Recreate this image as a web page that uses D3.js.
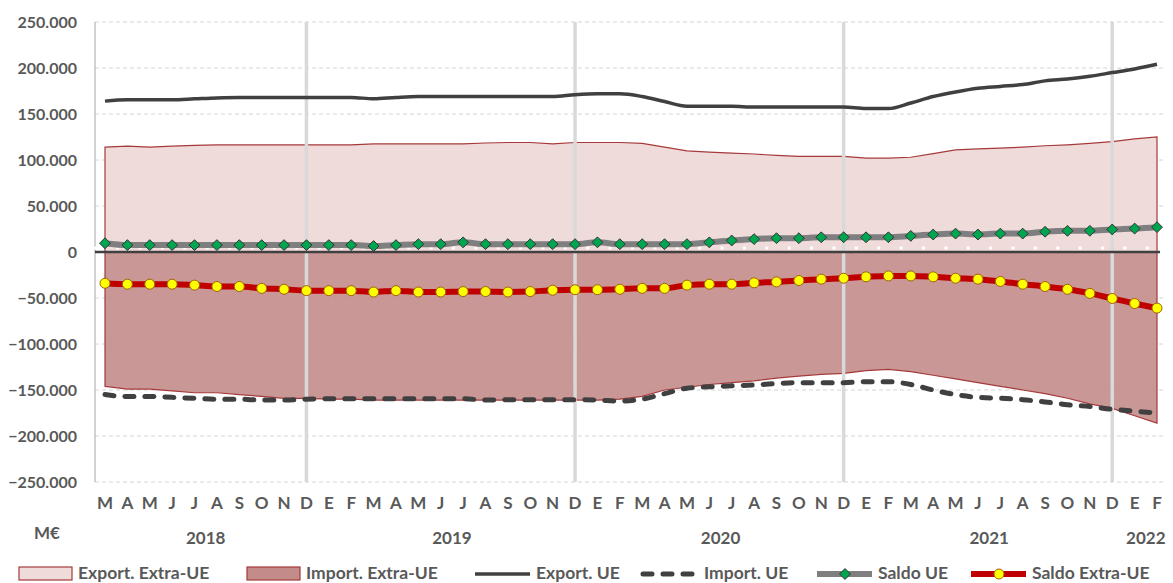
<!DOCTYPE html>
<html><head><meta charset="utf-8">
<script src="https://cdn.jsdelivr.net/npm/d3@7"></script>
<style>
html,body{margin:0;padding:0;background:#fff;}
svg text{font-family:Lato,"Open Sans",sans-serif;font-weight:700;fill:#595959;}
</style></head>
<body><svg id="c" width="1173" height="583"></svg>
<script>
// ---- data (M€) ----
const months = ["M","A","M","J","J","A","S","O","N","D",
  "E","F","M","A","M","J","J","A","S","O","N","D",
  "E","F","M","A","M","J","J","A","S","O","N","D",
  "E","F","M","A","M","J","J","A","S","O","N","D",
  "E","F"];
const years = [{label:"2018",from:0,to:9},{label:"2019",from:10,to:21},{label:"2020",from:22,to:33},{label:"2021",from:34,to:45},{label:"2022",from:46,to:47}];
const yearSeparators = [9,21,33,45];
const yTicks = [250000,200000,150000,100000,50000,0,-50000,-100000,-150000,-200000,-250000];

const exportExtraUE = [114,115,114,115,116,116.5,116.5,116.5,116.5,116.5,
  116.5,116.5,117.5,117.5,117.5,117.5,117.5,118.5,119,119,117.5,119,
  119,119,118,114,110,108.5,107.5,106.5,105,104,104,104,
  102,102,103,107,111,112,113,114,115.5,116.5,118,120,
  123,125].map(v=>v*1000);
const importExtraUE = [-146,-149,-149,-151,-153,-153,-155,-157,-159,-159,
  -160,-160,-161,-161,-161,-161,-161,-161,-161,-161,-161,-161,
  -161,-160,-157,-150,-147,-144,-142,-140,-137,-135,-133,-132,
  -129,-127.5,-130,-134,-138,-142,-146,-150,-154,-159,-165,-170,
  -178,-186].map(v=>v*1000);
const exportUE = [164,165.5,165.5,165.5,166.5,167.5,168,168,168,168,
  168,168,166.5,168,169,169,169,169,169,169,169,171,
  172,172,169,163.5,158.5,158.5,158.5,157.5,157.5,157.5,157.5,157.5,
  156,156,162,169,174,178,180,182,186,188,191,195,
  199,204].map(v=>v*1000);
const importUE = [-155,-157,-157,-158,-159,-160,-160,-161,-161,-160,
  -159.5,-159.5,-159.5,-159.5,-159.5,-159.5,-159.5,-161,-160.5,-160.5,-160.5,-160.5,
  -161,-162,-160,-154,-148,-146.5,-145.5,-144.5,-143,-142,-142,-142,
  -141,-141,-144,-150,-155,-158,-159,-160.5,-163,-166,-168,-171,
  -173,-175].map(v=>v*1000);
const saldoUE = [9.5,7.5,7.5,7.5,7.5,7.5,7.5,7.5,7.5,7.5,
  7.5,7.5,6.5,7.5,8.5,8.5,10.5,8.5,8.5,8.5,8.5,8.5,
  10.5,8.5,8.5,8.5,8.5,10.5,12.5,14,15,15,16,16,
  16,16,17.5,19,20,19,20,20,22,23,23,24.5,
  25.5,27].map(v=>v*1000);
const saldoExtraUE = [-34,-35,-35,-35,-36,-37.5,-37.5,-39.5,-40.5,-42,
  -42,-42,-43.5,-42,-43.5,-43.5,-43,-43,-43.5,-43,-41.5,-41,
  -41,-40.5,-39.5,-39.5,-36,-35,-35,-33.5,-32.5,-31,-29.5,-28.5,
  -27,-26,-26,-27,-28.5,-29.5,-32,-35,-37.5,-40.5,-45,-50.5,
  -56,-61].map(v=>v*1000);

const legendItems = [
  {label:"Export. Extra-UE", type:"area", key:"expExtra"},
  {label:"Import. Extra-UE", type:"area", key:"impExtra"},
  {label:"Export. UE", type:"line", key:"expUE"},
  {label:"Import. UE", type:"line", key:"impUE"},
  {label:"Saldo UE", type:"line", key:"saldoUE"},
  {label:"Saldo Extra-UE", type:"line", key:"saldoExtra"}
];

// ---- styles ----
const S = {
  expExtra:{fill:"#F0DBDB", stroke:"#A63A3A"},
  impExtra:{fill:"#C38C8A", stroke:"#A63A3A", opacity:0.9},
  expUE:{stroke:"#404040", width:3.5},
  impUE:{stroke:"#404040", width:5, dash:"9,11"},
  saldoUE:{stroke:"#7F7F7F", width:6, marker:"diamond", mfill:"#00A550", mstroke:"#333"},
  saldoExtra:{stroke:"#C00000", width:6, marker:"circle", mfill:"#FFFF00", mstroke:"#A0600A"}
};

const svg = d3.select("#c");
const idx = d3.range(months.length);
const x = d3.scaleBand().domain(idx).range([93.8, 1168.2]);
const cx = i => x(i) + x.bandwidth()/2;
const y = d3.scaleLinear().domain([-250000,250000]).range([482,22]);
const plotL = 95, plotR = 1166;

// gridlines
svg.append("g").selectAll("line").data(yTicks.filter(t=>t!==0)).join("line")
  .attr("x1",plotL).attr("x2",plotR).attr("y1",d=>y(d)).attr("y2",d=>y(d))
  .attr("stroke","#D4D4D4").attr("stroke-width",1).attr("stroke-dasharray","4,3");

// areas
const area = d3.area().x((d,i)=>cx(i)).y0(y(0)).y1(d=>y(d));
svg.append("path").datum(exportExtraUE).attr("d",area)
  .attr("fill",S.expExtra.fill).attr("stroke",S.expExtra.stroke).attr("stroke-width",1.2);
svg.append("path").datum(importExtraUE).attr("d",area)
  .attr("fill",S.impExtra.fill).attr("fill-opacity",S.impExtra.opacity)
  .attr("stroke",S.impExtra.stroke).attr("stroke-width",1.2);

// year separators
svg.append("g").selectAll("line").data(yearSeparators).join("line")
  .attr("x1",d=>cx(d)).attr("x2",d=>cx(d)).attr("y1",y(250000)).attr("y2",y(-250000))
  .attr("stroke","#D9D9D9").attr("stroke-width",3.5);

// y axis line
svg.append("line").attr("x1",plotL).attr("x2",plotL).attr("y1",y(250000)).attr("y2",y(-250000))
  .attr("stroke","#A6A6A6").attr("stroke-width",1);

// white dotted line just above zero
svg.append("line").attr("x1",x(0)).attr("x2",x(months.length-1)+x.bandwidth())
  .attr("y1",y(0)-4).attr("y2",y(0)-4)
  .attr("stroke","#fff").attr("stroke-width",3).attr("stroke-dasharray","3,"+(x.step()-3));

// zero line
svg.append("line").attr("x1",plotL).attr("x2",cx(months.length-1)+3).attr("y1",y(0)).attr("y2",y(0))
  .attr("stroke","#404040").attr("stroke-width",2.5);

// lines
const line = d3.line().x((d,i)=>cx(i)).y(d=>y(d)).curve(d3.curveMonotoneX);
function drawLine(data, st){
  const p = svg.append("path").datum(data).attr("d",line).attr("fill","none")
    .attr("stroke",st.stroke).attr("stroke-width",st.width).attr("stroke-linejoin","round");
  if(st.dash) p.attr("stroke-dasharray",st.dash).attr("stroke-linecap","round");
}
drawLine(exportUE,S.expUE);
drawLine(importUE,S.impUE);
drawLine(saldoUE,S.saldoUE);
drawLine(saldoExtraUE,S.saldoExtra);

const diamond = d3.symbol().type(d3.symbolDiamond2).size(75);
function drawMarkers(data, st){
  const g = svg.append("g");
  if(st.marker==="diamond"){
    g.selectAll("path").data(data).join("path").attr("d",diamond)
      .attr("transform",(d,i)=>`translate(${cx(i)},${y(d)})`)
      .attr("fill",st.mfill).attr("stroke",st.mstroke).attr("stroke-width",1);
  } else {
    g.selectAll("circle").data(data).join("circle")
      .attr("cx",(d,i)=>cx(i)).attr("cy",d=>y(d)).attr("r",5)
      .attr("fill",st.mfill).attr("stroke",st.mstroke).attr("stroke-width",1);
  }
}
drawMarkers(saldoUE,S.saldoUE);
drawMarkers(saldoExtraUE,S.saldoExtra);

// y tick labels
const fmt = v => v===0 ? "0" : d3.format(",")(v).replace(/,/g,".");
svg.append("g").selectAll("text").data(yTicks).join("text")
  .attr("x",77).attr("y",d=>y(d)+5.5).attr("text-anchor","end")
  .style("font-size","16px").text(fmt);

// month labels
svg.append("g").selectAll("text").data(months).join("text")
  .attr("x",(d,i)=>cx(i)).attr("y",509).attr("text-anchor","middle")
  .style("font-size","17px").text(d=>d);
// year labels
svg.append("g").selectAll("text").data(years).join("text")
  .attr("x",d=>(cx(d.from)+cx(d.to))/2).attr("y",544).attr("text-anchor","middle")
  .style("font-size","17px").text(d=>d.label);
svg.append("text").attr("x",47).attr("y",539).attr("text-anchor","middle")
  .style("font-size","17px").text("M€");

// legend
const legendX = [19,247,475,643,817,971];
const lg = svg.append("g");
legendItems.forEach((it,k)=>{
  const x0 = legendX[k], st = S[it.key], yc = 574;
  if(it.type==="area"){
    lg.append("rect").attr("x",x0).attr("y",567).attr("width",53).attr("height",13)
      .attr("fill",st.fill).attr("stroke",st.stroke).attr("stroke-width",1.2);
    lg.append("text").attr("x",x0+59).attr("y",579).style("font-size","17.5px").text(it.label);
  } else {
    const l = lg.append("line").attr("x1",x0).attr("x2",x0+55).attr("y1",yc).attr("y2",yc)
      .attr("stroke",st.stroke).attr("stroke-width",st.width).attr("stroke-linecap", st.dash?"round":"butt");
    if(st.dash) l.attr("stroke-dasharray",st.dash);
    if(st.marker==="diamond"){
      lg.append("path").attr("d",diamond).attr("transform",`translate(${x0+28},${yc})`)
        .attr("fill",st.mfill).attr("stroke",st.mstroke);
    } else if(st.marker==="circle"){
      lg.append("circle").attr("cx",x0+28).attr("cy",yc).attr("r",5)
        .attr("fill",st.mfill).attr("stroke",st.mstroke);
    }
    lg.append("text").attr("x",x0+61).attr("y",579).style("font-size","17.5px").text(it.label);
  }
});
</script></body></html>
